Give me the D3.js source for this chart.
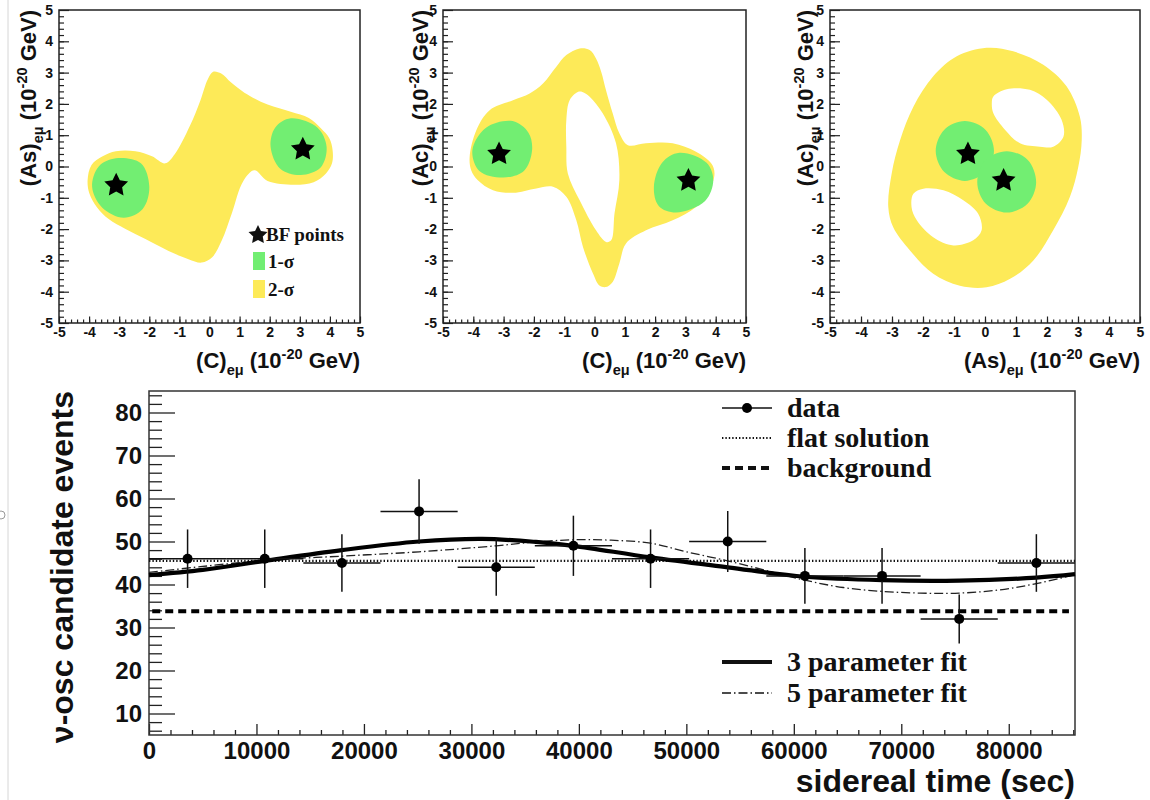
<!DOCTYPE html>
<html>
<head>
<meta charset="utf-8">
<script src="https://cdn.jsdelivr.net/npm/d3@7"></script>
<style>
  body { margin: 0; background: #fff; }
  svg { display: block; font-family: "Liberation Sans", Arial, sans-serif; }
</style>
</head>
<body>
<svg id="fig" width="1150" height="800"></svg>
<script>
// ---- values ----

// contour panels: both axes run -5..5 (units of 1e-20 GeV)
const contourTicks = [-5, -4, -3, -2, -1, 0, 1, 2, 3, 4, 5];

// panel 1: (C) vs (As)
const p1Yellow = [
  [-4.05, -0.44], [-3.92, 0.05], [-3.55, 0.33], [-3.11, 0.49], [-2.46, 0.49], [-1.91, 0.33],
  [-1.47, 0.1], [-1.15, 0.4], [-0.65, 1.3], [-0.3, 2.12], [-0.06, 2.78], [0.12, 3.03],
  [0.39, 2.97], [0.72, 2.68], [1.16, 2.36], [1.93, 1.98], [2.7, 1.75], [3.3, 1.55],
  [3.7, 1.22], [3.98, 0.9], [4.09, 0.52], [4.07, 0.1], [3.87, -0.22], [3.46, -0.5],
  [2.81, -0.58], [1.93, -0.46], [1.49, -0.12], [1.12, -0.47], [0.74, -1.5], [0.41, -2.36],
  [0.09, -2.9], [-0.26, -3.07], [-0.7, -2.96], [-1.36, -2.7], [-2.13, -2.32], [-2.79, -2.0],
  [-3.35, -1.68], [-3.74, -1.3], [-3.99, -0.86]
];
const p1GreenLeft = [
  [-3.11, 0.26], [-2.28, 0.1], [-2.0, -0.65], [-2.22, -1.36], [-2.85, -1.64],
  [-3.57, -1.31], [-3.9, -0.65], [-3.68, 0.0]
];
const p1GreenRight = [
  [2.7, 1.54], [3.59, 1.24], [3.89, 0.63], [3.7, -0.02], [3.03, -0.27],
  [2.35, -0.07], [2.03, 0.63], [2.18, 1.24]
];
const p1Stars = [[-3.1, -0.6], [3.1, 0.55]];

// panel 2: (C) vs (Ac)
const p2Yellow = [
  [-4.12, 0.31], [-3.9, 1.16], [-3.46, 1.8], [-2.69, 2.12], [-2.14, 2.33], [-1.7, 2.65],
  [-1.26, 3.19], [-0.93, 3.56], [-0.49, 3.77], [-0.16, 3.72], [0.05, 3.45], [0.22, 3.03],
  [0.38, 2.44], [0.6, 1.7], [0.82, 1.06], [1.1, 0.68], [1.7, 0.74], [2.58, 0.74],
  [3.35, 0.47], [3.85, 0.1], [3.96, -0.22], [3.79, -0.76], [3.35, -1.29], [2.58, -1.72],
  [1.7, -2.04], [1.04, -2.46], [0.82, -3.1], [0.6, -3.69], [0.38, -3.85], [0.16, -3.8],
  [-0.05, -3.42], [-0.38, -2.57], [-0.6, -1.72], [-0.93, -0.97], [-1.37, -0.65], [-1.92, -0.7],
  [-2.69, -0.84], [-3.35, -0.76], [-3.85, -0.44], [-4.07, -0.12]
];
const p2Hole = [
  [-0.55, 2.38], [-0.82, 2.12], [-0.93, 1.48], [-0.93, 0.63], [-0.88, -0.22], [-0.49, -1.08],
  [0.05, -2.04], [0.38, -2.41], [0.55, -2.36], [0.66, -1.5], [0.82, -0.44], [0.71, 0.74],
  [0.27, 1.7], [-0.16, 2.23], [-0.4, 2.38]
];
const p2GreenLeft = [
  [-2.7, 1.45], [-2.18, 1.08], [-2.06, 0.52], [-2.33, -0.14], [-3.01, -0.35],
  [-3.8, -0.14], [-4.03, 0.52], [-3.58, 1.24]
];
const p2GreenRight = [
  [2.8, 0.44], [3.7, 0.12], [3.92, -0.44], [3.65, -1.1], [2.69, -1.47],
  [2.12, -1.26], [1.96, -0.65], [2.23, 0.12]
];
const p2Stars = [[-3.15, 0.4], [3.1, -0.45]];

// panel 3: (As) vs (Ac)
const p3Yellow = [
  [0.05, 3.79], [0.91, 3.68], [1.88, 3.25], [2.63, 2.56], [3.06, 1.59], [3.12, 0.84],
  [3.01, -0.01], [2.74, -0.97], [2.2, -2.04], [1.56, -3.0], [0.81, -3.59], [0.05, -3.86],
  [-0.81, -3.81], [-1.67, -3.43], [-2.42, -2.68], [-2.96, -1.94], [-3.12, -1.29], [-3.01, -0.22],
  [-2.74, 0.84], [-2.31, 1.91], [-1.67, 2.88], [-0.91, 3.52]
];
const p3HoleUpper = [
  [0.27, 2.24], [0.7, 2.47], [1.45, 2.45], [1.99, 2.13], [2.47, 1.49], [2.53, 0.95],
  [2.2, 0.63], [1.77, 0.63], [1.13, 0.74], [0.65, 1.17], [0.27, 1.7], [0.22, 2.02]
];
const p3HoleLower = [
  [-2.31, -0.87], [-1.99, -0.71], [-1.34, -0.76], [-0.7, -1.08], [-0.22, -1.51], [-0.11, -2.04],
  [-0.38, -2.36], [-1.02, -2.52], [-1.67, -2.26], [-2.2, -1.72], [-2.37, -1.29]
];
const p3GreenUpper = [
  [-0.65, 1.45], [0.02, 1.17], [0.29, 0.5], [0.02, -0.17], [-0.65, -0.46],
  [-1.32, -0.17], [-1.59, 0.5], [-1.32, 1.17]
];
const p3GreenLower = [
  [0.7, 0.49], [1.38, 0.21], [1.65, -0.5], [1.38, -1.18], [0.7, -1.47],
  [0.02, -1.18], [-0.25, -0.5], [0.02, 0.21]
];
const p3Stars = [[-0.55, 0.4], [0.6, -0.45]];

// bottom panel: events per sidereal-time bin
const binCenters = [3590, 10770, 17950, 25130, 32310, 39490, 46670, 53850, 61030, 68210, 75390, 82570];
const binHalfWidth = 3590;
const events = [46, 46, 45, 57, 44, 49, 46, 50, 42, 42, 32, 45];
const eventErrors = [6.8, 6.8, 6.7, 7.5, 6.6, 7.0, 6.8, 7.1, 6.5, 6.5, 5.7, 6.7];
const flatLevel = 45.5;
const backgroundLevel = 33.8;
const fit3Times = [0, 5000, 10770, 17950, 25130, 31000, 36000, 39490, 46670, 53850, 61030, 68210, 75390, 82570, 86164];
const fit3Values = [42.2, 43.4, 45.5, 48.0, 50.0, 50.6, 49.9, 49.0, 46.3, 44.0, 41.8, 41.0, 40.9, 41.6, 42.4];
const fit5Times = [0, 5000, 10770, 17950, 25130, 32310, 36000, 39490, 43000, 46670, 50000, 53850,
  57500, 61030, 64600, 68210, 71800, 75390, 79000, 82570, 86164];
const fit5Values = [42.8, 44.2, 45.6, 46.6, 47.6, 49.0, 49.9, 50.4, 50.3, 49.6, 47.6, 45.5,
  43.2, 41.0, 39.3, 38.4, 38.0, 38.0, 38.7, 40.2, 42.3];
const timeTicks = [0, 10000, 20000, 30000, 40000, 50000, 60000, 70000, 80000];
const eventTicks = [10, 20, 30, 40, 50, 60, 70, 80];

// ---- drawing ----
const YELLOW = '#fdea58';
const GREEN = '#72ee72';
const SERIF = '"Liberation Serif", "Times New Roman", serif';
const svg = d3.select('#fig');

// faint page edge from the scan
svg.append('line').attr('x1', 8).attr('x2', 8).attr('y1', 0).attr('y2', 800)
  .attr('stroke', '#d6d6d6').attr('stroke-width', 1);
svg.append('circle').attr('cx', 1).attr('cy', 515).attr('r', 4)
  .attr('fill', 'none').attr('stroke', '#999');

// ROOT's star marker is fatter than d3.symbolStar; size = outer radius here
const fatStar = {
  draw(ctx, size) {
    for (let i = 0; i < 10; i++) {
      const a = -Math.PI / 2 + i * Math.PI / 5;
      const r = i % 2 ? size * 0.5 : size;
      if (i === 0) ctx.moveTo(r * Math.cos(a), r * Math.sin(a));
      else ctx.lineTo(r * Math.cos(a), r * Math.sin(a));
    }
    ctx.closePath();
  }
};
const starShape = d3.symbol().type(fatStar);

// text with ROOT-like sub/superscripts
function richText(text, parts, size) {
  let shift = 0;
  parts.forEach(p => {
    const target = p.sub ? size * 0.3 : p.sup ? -size * 0.42 : 0;
    const ts = text.append('tspan').attr('dy', target - shift).text(p.t);
    if (p.sub || p.sup) ts.attr('font-size', size * 0.66);
    shift = target;
  });
}
const unitParts = name => [{ t: name }, { t: 'eμ', sub: true }, { t: ' (10' }, { t: '-20', sup: true }, { t: ' GeV)' }];

const panels = [
  { left: 59, right: 360, yellow: p1Yellow, holes: [], greens: [p1GreenLeft, p1GreenRight],
    stars: p1Stars, xName: '(C)', yName: '(As)', yTitleX: 36, legend: true },
  { left: 443, right: 746, yellow: p2Yellow, holes: [p2Hole], greens: [p2GreenLeft, p2GreenRight],
    stars: p2Stars, xName: '(C)', yName: '(Ac)', yTitleX: 428 },
  { left: 830, right: 1140, yellow: p3Yellow, holes: [p3HoleUpper, p3HoleLower], greens: [p3GreenUpper, p3GreenLower],
    stars: p3Stars, xName: '(As)', yName: '(Ac)', yTitleX: 813 }
];

const TOP = 10, BOTTOM = 323;

panels.forEach(p => {
  const x = d3.scaleLinear().domain([-5, 5]).range([p.left, p.right]);
  const y = d3.scaleLinear().domain([-5, 5]).range([BOTTOM, TOP]);
  const g = svg.append('g');
  const outline = d3.line().x(d => x(d[0])).y(d => y(d[1])).curve(d3.curveCatmullRomClosed.alpha(0.5));

  // 2-sigma region (with holes), then 1-sigma blobs
  g.append('path')
    .attr('d', [p.yellow, ...p.holes].map(outline).join(''))
    .attr('fill', YELLOW).attr('fill-rule', 'evenodd');
  p.greens.forEach(blob => {
    g.append('path').attr('d', outline(blob)).attr('fill', GREEN);
  });
  g.selectAll('.star').data(p.stars).enter().append('path')
    .attr('d', starShape.size(12.5)())
    .attr('transform', d => `translate(${x(d[0])},${y(d[1])})`)
    .attr('fill', '#000');

  // axes: minor ticks every 0.2, majors with labels
  const minor = d3.range(-48, 49, 2).map(v => v / 10);
  g.append('g').attr('transform', `translate(0,${BOTTOM})`)
    .call(d3.axisBottom(x).tickValues(minor).tickSize(-3.5).tickFormat(''))
    .call(a => a.select('.domain').remove());
  g.append('g').attr('transform', `translate(0,${BOTTOM})`)
    .call(d3.axisBottom(x).tickValues(contourTicks).tickSize(-6.5).tickPadding(4).tickFormat(d => d))
    .call(a => a.select('.domain').remove());
  g.append('g').attr('transform', `translate(${p.left},0)`)
    .call(d3.axisLeft(y).tickValues(minor).tickSize(-5).tickFormat(''))
    .call(a => a.select('.domain').remove());
  g.append('g').attr('transform', `translate(${p.left},0)`)
    .call(d3.axisLeft(y).tickValues(contourTicks).tickSize(-10).tickPadding(6).tickFormat(d => d))
    .call(a => a.select('.domain').remove());
  g.selectAll('.tick line').attr('stroke', '#222').attr('stroke-width', 1.2);
  g.selectAll('.tick text').attr('font-size', 14).attr('font-weight', 'bold')
    .attr('font-family', '"Liberation Sans", Arial, sans-serif').attr('fill', '#111');

  g.append('rect').attr('x', p.left).attr('y', TOP)
    .attr('width', p.right - p.left).attr('height', BOTTOM - TOP)
    .attr('fill', 'none').attr('stroke', '#222').attr('stroke-width', 1.5);

  // axis titles
  const xt = g.append('text').attr('x', p.right).attr('y', 368)
    .attr('text-anchor', 'end').attr('font-size', 22).attr('font-weight', 'bold').attr('fill', '#111');
  richText(xt, unitParts(p.xName), 22);
  const yt = g.append('text').attr('transform', `translate(${p.yTitleX},${TOP}) rotate(-90)`)
    .attr('text-anchor', 'end').attr('font-size', 22).attr('font-weight', 'bold').attr('fill', '#111');
  richText(yt, unitParts(p.yName), 22);

  if (p.legend) {
    const lg = g.append('g').attr('font-family', SERIF).attr('font-weight', 'bold')
      .attr('font-size', 19).attr('fill', '#111');
    lg.append('path').attr('d', starShape.size(10)()).attr('transform', 'translate(258,235)');
    lg.append('text').attr('x', 266).attr('y', 241).text('BF points');
    lg.append('rect').attr('x', 253).attr('y', 252).attr('width', 12).attr('height', 18).attr('fill', GREEN);
    lg.append('text').attr('x', 268).attr('y', 268).text('1-σ');
    lg.append('rect').attr('x', 253).attr('y', 280).attr('width', 12).attr('height', 18).attr('fill', YELLOW);
    lg.append('text').attr('x', 268).attr('y', 296).text('2-σ');
  }
});

// ---- bottom panel ----
const B = { left: 149, right: 1075, top: 391, bottom: 735 };
const bx = d3.scaleLinear().domain([0, 86164]).range([B.left, B.right]);
const by = d3.scaleLinear().domain([5, 85]).range([B.bottom, B.top]);
const bg = svg.append('g');

const minorTimes = d3.range(2000, 86164, 2000).filter(v => v % 10000 !== 0);
const minorEvents = d3.range(6, 85, 2).filter(v => v % 10 !== 0);
bg.append('g').attr('transform', `translate(0,${B.bottom})`)
  .call(d3.axisBottom(bx).tickValues(minorTimes).tickSize(-5).tickFormat(''))
  .call(a => a.select('.domain').remove());
bg.append('g').attr('transform', `translate(0,${B.bottom})`)
  .call(d3.axisBottom(bx).tickValues(timeTicks).tickSize(-11).tickPadding(7).tickFormat(d => d))
  .call(a => a.select('.domain').remove());
bg.append('g').attr('transform', `translate(${B.left},0)`)
  .call(d3.axisLeft(by).tickValues(minorEvents).tickSize(-13).tickFormat(''))
  .call(a => a.select('.domain').remove());
bg.append('g').attr('transform', `translate(${B.left},0)`)
  .call(d3.axisLeft(by).tickValues(eventTicks).tickSize(-26).tickPadding(7).tickFormat(d => d))
  .call(a => a.select('.domain').remove());
bg.selectAll('.tick line').attr('stroke', '#222').attr('stroke-width', 1.3);
bg.selectAll('.tick text').attr('font-size', 24).attr('font-weight', 'bold')
  .attr('font-family', '"Liberation Sans", Arial, sans-serif').attr('fill', '#111');

bg.append('rect').attr('x', B.left).attr('y', B.top)
  .attr('width', B.right - B.left).attr('height', B.bottom - B.top)
  .attr('fill', 'none').attr('stroke', '#333').attr('stroke-width', 1.5);

const level = d3.line().x(d => bx(d[0])).y(d => by(d[1]));
// flat solution (dotted)
bg.append('path').attr('d', level([[0, flatLevel], [86164, flatLevel]]))
  .attr('stroke', '#111').attr('stroke-width', 2.2).attr('stroke-dasharray', '1.4,2').attr('fill', 'none');
// background (dashed)
bg.append('path').attr('d', level([[300, backgroundLevel], [85600, backgroundLevel]]))
  .attr('stroke', '#000').attr('stroke-width', 4).attr('stroke-dasharray', '8,5').attr('fill', 'none');

const fitLine = d3.line().x(d => bx(d[0])).y(d => by(d[1])).curve(d3.curveCatmullRom);
bg.append('path').attr('d', fitLine(d3.zip(fit5Times, fit5Values)))
  .attr('stroke', '#222').attr('stroke-width', 1.3).attr('stroke-dasharray', '9,3,1.5,3').attr('fill', 'none');
bg.append('path').attr('d', fitLine(d3.zip(fit3Times, fit3Values)))
  .attr('stroke', '#000').attr('stroke-width', 4.2).attr('fill', 'none');

// data points with errors
const pts = bg.selectAll('.pt').data(d3.zip(binCenters, events, eventErrors)).enter().append('g');
pts.append('line')
  .attr('x1', d => bx(d[0] - binHalfWidth)).attr('x2', d => bx(d[0] + binHalfWidth))
  .attr('y1', d => by(d[1])).attr('y2', d => by(d[1]))
  .attr('stroke', '#111').attr('stroke-width', 1.5);
pts.append('line')
  .attr('x1', d => bx(d[0])).attr('x2', d => bx(d[0]))
  .attr('y1', d => by(d[1] - d[2])).attr('y2', d => by(d[1] + d[2]))
  .attr('stroke', '#111').attr('stroke-width', 1.5);
pts.append('circle').attr('cx', d => bx(d[0])).attr('cy', d => by(d[1])).attr('r', 5).attr('fill', '#000');

// axis titles
bg.append('text').attr('x', B.right).attr('y', 792).attr('text-anchor', 'end')
  .attr('font-size', 32).attr('font-weight', 'bold').attr('fill', '#111').text('sidereal time (sec)');
bg.append('text').attr('transform', `translate(73,${B.top}) rotate(-90)`).attr('text-anchor', 'end')
  .attr('font-size', 32).attr('font-weight', 'bold').attr('fill', '#111').text('ν-osc candidate events');

// legend
const legRows = [
  { y: 408, label: 'data', kind: 'data' },
  { y: 438, label: 'flat solution', kind: 'flat' },
  { y: 468, label: 'background', kind: 'bkg' },
  { y: 662, label: '3 parameter fit', kind: 'fit3' },
  { y: 693, label: '5 parameter fit', kind: 'fit5' }
];
const leg = bg.append('g');
legRows.forEach(r => {
  const ln = leg.append('line').attr('x1', 722).attr('x2', 772).attr('y1', r.y).attr('y2', r.y).attr('stroke', '#111');
  if (r.kind === 'data') {
    ln.attr('stroke-width', 1.5);
    leg.append('circle').attr('cx', 747).attr('cy', r.y).attr('r', 5).attr('fill', '#000');
  } else if (r.kind === 'flat') {
    ln.attr('stroke-width', 2.2).attr('stroke-dasharray', '1.4,2');
  } else if (r.kind === 'bkg') {
    ln.attr('stroke-width', 4).attr('stroke-dasharray', '8,5');
  } else if (r.kind === 'fit3') {
    ln.attr('stroke-width', 4.2);
  } else {
    ln.attr('stroke-width', 1.3).attr('stroke-dasharray', '9,3,1.5,3');
  }
  leg.append('text').attr('x', 787).attr('y', r.y + 9)
    .attr('font-family', SERIF).attr('font-weight', 'bold').attr('font-size', 28).attr('fill', '#111')
    .text(r.label);
});
</script>
</body>
</html>
